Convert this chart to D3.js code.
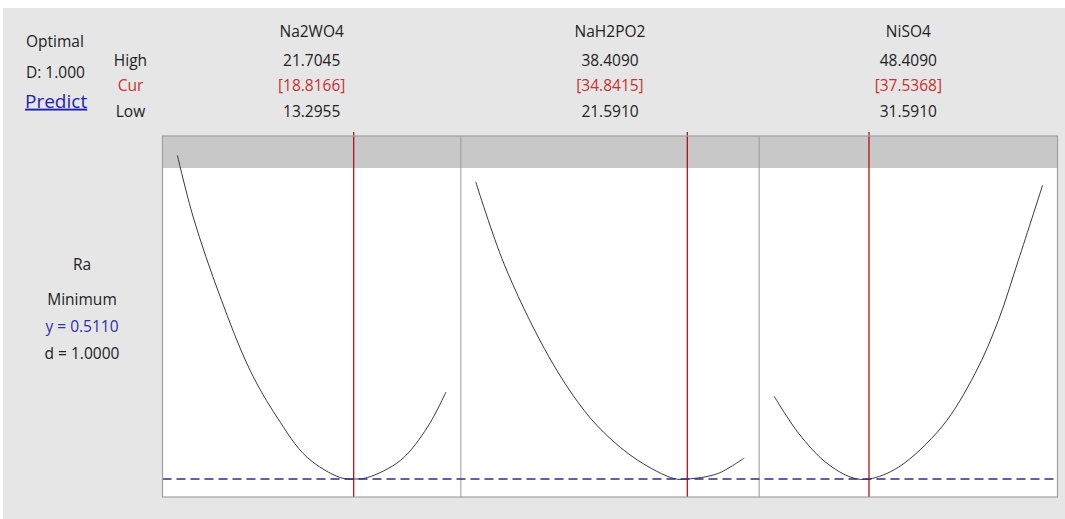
<!DOCTYPE html>
<html>
<head>
<meta charset="utf-8">
<script src="https://cdn.jsdelivr.net/npm/d3@7/dist/d3.min.js"></script>
<style>
  html, body { margin: 0; padding: 0; background: #ffffff; }
  svg { display: block; }
  text { font-family: "Open Sans", "Noto Sans", sans-serif; }
</style>
</head>
<body>
<svg id="chart" width="1065" height="519"></svg>
<script>
// ---------------- data ----------------
const factors = ["Na2WO4", "NaH2PO2", "NiSO4"];
const highs = [21.7045, 38.4090, 48.4090];
const curs = [18.8166, 34.8415, 37.5368];
const lows = [13.2955, 21.5910, 31.5910];
const highLabels = ["21.7045", "38.4090", "48.4090"];
const curLabels = ["[18.8166]", "[34.8415]", "[37.5368]"];
const lowLabels = ["13.2955", "21.5910", "31.5910"];

// predicted Ra profile along each factor
const na2wo4X = [13.2955, 13.79, 14.63, 15.57, 16.41, 17.35, 18.40, 18.8166, 19.24, 20.29, 21.13, 21.7045];
const na2wo4Y = [1.680, 1.457, 1.171, 0.904, 0.735, 0.590, 0.516, 0.511, 0.516, 0.579, 0.699, 0.825];
const nah2po2X = [21.591, 23.37, 25.88, 27.97, 29.63, 31.73, 34.02, 34.8415, 36.74, 38.409];
const nah2po2Y = [1.584, 1.287, 0.983, 0.790, 0.678, 0.579, 0.5125, 0.511, 0.5305, 0.587];
const niso4X = [31.591, 33.14, 34.81, 36.47, 37.5368, 39.39, 42.09, 44.18, 45.64, 46.89, 48.409];
const niso4Y = [0.810, 0.675, 0.572, 0.516, 0.511, 0.554, 0.699, 0.892, 1.084, 1.301, 1.572];
const profilesX = [na2wo4X, nah2po2X, niso4X];
const profilesY = [na2wo4Y, nah2po2Y, niso4Y];

const responseName = "Ra";
const goalName = "Minimum";
const yOpt = 0.5110;
const yLabel = "y = 0.5110";
const dLabel = "d = 1.0000";
const compositeLabel = "D: 1.000";

// ---------------- layout ----------------
const svg = d3.select("#chart");
const plotL = 162.5, plotR = 1057.5, plotT = 136, plotB = 497, bandB = 168;
const panelW = (plotR - plotL) / 3;
const fontSize = 15.5;

// background
svg.append("rect").attr("x", 3).attr("y", 8).attr("width", 1062).attr("height", 511).attr("fill", "#e6e6e6");

// y scale (shared)
const y = d3.scaleLinear().domain([0.446, 1.75]).range([plotB, plotT]);

// panel backgrounds
svg.append("rect").attr("x", plotL).attr("y", plotT).attr("width", plotR - plotL).attr("height", plotB - plotT)
  .attr("fill", "#ffffff");
svg.append("rect").attr("x", plotL).attr("y", plotT).attr("width", plotR - plotL).attr("height", bandB - plotT)
  .attr("fill", "#c8c8c8");

// left header
svg.append("text").attr("x", 26).attr("y", 42).attr("dy", "0.35em").attr("font-size", fontSize).attr("fill", "#222").text("Optimal");
svg.append("text").attr("x", 26).attr("y", 73).attr("dy", "0.35em").attr("font-size", fontSize).attr("fill", "#222").text(compositeLabel);
svg.append("text").attr("x", 25).attr("y", 101).attr("dy", "0.35em").attr("font-size", 19).attr("fill", "#1f1fb4")
  .attr("text-decoration", "underline").text("Predict");

svg.append("text").attr("x", 130.5).attr("y", 61).attr("dy", "0.35em").attr("text-anchor", "middle").attr("font-size", fontSize).attr("fill", "#222").text("High");
svg.append("text").attr("x", 130.5).attr("y", 86).attr("dy", "0.35em").attr("text-anchor", "middle").attr("font-size", fontSize).attr("fill", "#c83232").text("Cur");
svg.append("text").attr("x", 130.5).attr("y", 112).attr("dy", "0.35em").attr("text-anchor", "middle").attr("font-size", fontSize).attr("fill", "#222").text("Low");

// response labels
const lx = 82;
svg.append("text").attr("x", lx).attr("y", 265).attr("dy", "0.35em").attr("text-anchor", "middle").attr("font-size", fontSize).attr("fill", "#222").text(responseName);
svg.append("text").attr("x", lx).attr("y", 300).attr("dy", "0.35em").attr("text-anchor", "middle").attr("font-size", fontSize).attr("fill", "#222").text(goalName);
svg.append("text").attr("x", lx).attr("y", 327).attr("dy", "0.35em").attr("text-anchor", "middle").attr("font-size", fontSize).attr("fill", "#2e2eb0").text(yLabel);
svg.append("text").attr("x", lx).attr("y", 354).attr("dy", "0.35em").attr("text-anchor", "middle").attr("font-size", fontSize).attr("fill", "#222").text(dLabel);

const line = d3.line().curve(d3.curveCatmullRom.alpha(0.5));

factors.forEach((f, i) => {
  const x0 = plotL + i * panelW;
  const x = d3.scaleLinear().domain([lows[i], highs[i]]).range([x0 + panelW * 0.05, x0 + panelW * 0.95]);
  const cx = x0 + panelW / 2;

  svg.append("text").attr("x", cx).attr("y", 32).attr("dy", "0.35em").attr("text-anchor", "middle").attr("font-size", fontSize).attr("fill", "#222").text(f);
  svg.append("text").attr("x", cx).attr("y", 61).attr("dy", "0.35em").attr("text-anchor", "middle").attr("font-size", fontSize).attr("fill", "#222").text(highLabels[i]);
  svg.append("text").attr("x", cx).attr("y", 86).attr("dy", "0.35em").attr("text-anchor", "middle").attr("font-size", fontSize).attr("fill", "#c83232").text(curLabels[i]);
  svg.append("text").attr("x", cx).attr("y", 112).attr("dy", "0.35em").attr("text-anchor", "middle").attr("font-size", fontSize).attr("fill", "#222").text(lowLabels[i]);

  // divider
  if (i > 0) {
    svg.append("line").attr("x1", x0).attr("x2", x0).attr("y1", plotT).attr("y2", plotB)
      .attr("stroke", "#9a9a9a").attr("stroke-width", 1);
  }

  // profile curve
  const pts = profilesX[i].map((v, k) => [x(v), y(profilesY[i][k])]);
  svg.append("path").attr("d", line(pts)).attr("fill", "none").attr("stroke", "#3a3a3a").attr("stroke-width", 1);

  // current setting line
  svg.append("line").attr("x1", x(curs[i])).attr("x2", x(curs[i])).attr("y1", plotT - 4).attr("y2", plotB)
    .attr("stroke", "#b00000").attr("stroke-width", 1.2);
});

// optimum response dashed line
svg.append("line").attr("x1", plotL).attr("x2", plotR).attr("y1", y(yOpt)).attr("y2", y(yOpt))
  .attr("stroke", "#2c2c86").attr("stroke-width", 1.5).attr("stroke-dasharray", "9,5");

// panel frame
svg.append("rect").attr("x", plotL).attr("y", plotT).attr("width", plotR - plotL).attr("height", plotB - plotT)
  .attr("fill", "none").attr("stroke", "#a0a0a0").attr("stroke-width", 1.2);
</script>
</body>
</html>
